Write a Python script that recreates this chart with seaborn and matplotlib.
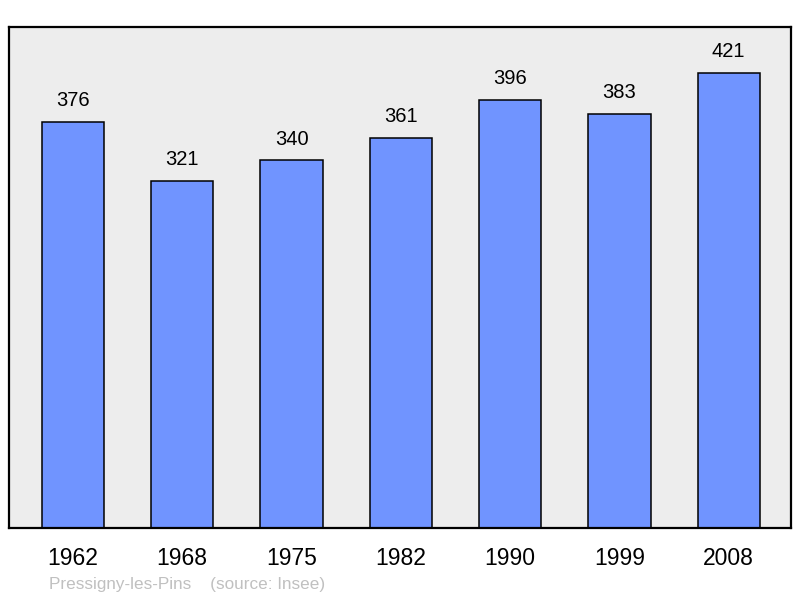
import matplotlib
matplotlib.use("Agg")
import matplotlib.pyplot as plt
import seaborn as sns
import pandas as pd

years = ["1962", "1968", "1975", "1982", "1990", "1999", "2008"]
population = [376, 321, 340, 361, 396, 383, 421]
caption = "Pressigny-les-Pins    (source: Insee)"

sns.set_style("white")
plt.rcParams["font.family"] = ["Liberation Sans", "DejaVu Sans"]
plt.rcParams["text.color"] = "black"
plt.rcParams["xtick.color"] = "black"

df = pd.DataFrame({"year": years, "pop": population})

fig = plt.figure(figsize=(8, 5.98), dpi=100)
ax = fig.add_axes([9/800, (598-528)/598, 782/800, (528-27)/598])
ax.set_facecolor("#ededed")

sns.barplot(data=df, x="year", y="pop", color="#7094ff", saturation=1,
            edgecolor="black", linewidth=1.1, width=0.57, ax=ax)

ax.set_ylim(0, 463.5)
ax.set_xlim(-0.585, 6.57)
ax.set_xlabel("")
ax.set_ylabel("")
ax.set_yticks([])
ax.tick_params(axis="x", length=0, pad=13.5, labelsize=16.5, labelcolor="black")
for s in ax.spines.values():
    s.set_linewidth(1.6)
    s.set_color("black")

for i, v in enumerate(population):
    ax.annotate(str(v), (i, v), xytext=(0, 8.5), textcoords="offset points",
                ha="center", va="bottom", fontsize=14.5, color="black")

fig.text(49/800, (598-585)/598, caption, ha="left", va="center",
         fontsize=12.3, color="#c0c0c0")

fig.savefig("out.png", dpi=100)
